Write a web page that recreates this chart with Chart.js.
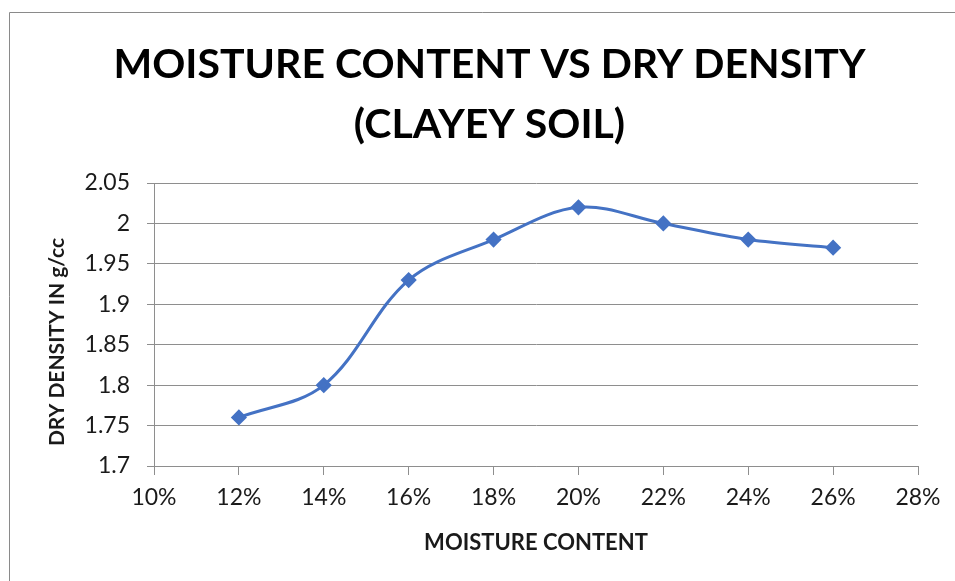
<!DOCTYPE html>
<html>
<head>
<meta charset="utf-8">
<title>Moisture content vs dry density</title>
<script src="https://cdn.jsdelivr.net/npm/chart.js@4/dist/chart.umd.min.js"></script>
<style>
    html, body { margin: 0; padding: 0; background: #fff; }
    canvas { display: block; }
</style>
</head>
<body>
<canvas id="chart" width="955" height="581"></canvas>
<script>
// Chart data
const chartTitle = ['MOISTURE CONTENT VS DRY DENSITY', '(CLAYEY SOIL)'];
const xAxisTitle = 'MOISTURE CONTENT';
const yAxisTitle = 'DRY DENSITY IN g/cc';

const moistureContent = [12, 14, 16, 18, 20, 22, 24, 26];          // %
const dryDensity = [1.76, 1.80, 1.93, 1.98, 2.02, 2.00, 1.98, 1.97]; // g/cc

const xTicks = [10, 12, 14, 16, 18, 20, 22, 24, 26, 28];
const yTicks = [1.7, 1.75, 1.8, 1.85, 1.9, 1.95, 2, 2.05];

const lineColor = '#4472C4';
const gridColor = '#8e8e8e';
const textColor = '#1a1a1a';
const fontFamily = "Lato, 'Open Sans', sans-serif";

// Outer frame, partly cut off in the reference (only top and left visible)
const framePlugin = {
    id: 'frame',
    beforeDraw(chart) {
        const ctx = chart.ctx;
        ctx.save();
        ctx.strokeStyle = '#8a8a8a';
        ctx.lineWidth = 1;
        ctx.beginPath();
        ctx.moveTo(chart.width, 12.5);
        ctx.lineTo(9.5, 12.5);
        ctx.lineTo(9.5, chart.height);
        ctx.stroke();
        ctx.restore();
    }
};

// Rotated y-axis title, sits a bit below the plot centre like the original
const yTitlePlugin = {
    id: 'yTitle',
    afterDraw(chart) {
        const ctx = chart.ctx;
        ctx.save();
        ctx.translate(57, 342);
        ctx.rotate(-Math.PI / 2);
        ctx.font = 'bold 21px ' + fontFamily;
        ctx.fillStyle = textColor;
        ctx.textAlign = 'center';
        ctx.textBaseline = 'middle';
        ctx.fillText(yAxisTitle, 0, 0);
        ctx.restore();
    }
};

const points = moistureContent.map((x, i) => ({ x: x, y: dryDensity[i] }));

new Chart(document.getElementById('chart'), {
    type: 'line',
    data: {
        datasets: [{
            data: points,
            borderColor: lineColor,
            backgroundColor: lineColor,
            borderWidth: 3,
            tension: 0.35,
            pointStyle: 'rectRot',
            pointRadius: 6,
            pointHoverRadius: 6,
            pointBorderColor: lineColor,
            pointBackgroundColor: lineColor,
            fill: false
        }]
    },
    options: {
        responsive: false,
        animation: false,
        devicePixelRatio: 1,
        layout: { padding: { left: 61, right: 37, top: 0, bottom: 0 } },
        plugins: {
            legend: { display: false },
            tooltip: { enabled: false },
            title: {
                display: true,
                text: chartTitle,
                color: '#000',
                font: { family: fontFamily, size: 41, weight: 'bold', lineHeight: '60px' },
                padding: { top: 35, bottom: 28 }
            }
        },
        scales: {
            x: {
                type: 'linear',
                min: 10,
                max: 28,
                afterBuildTicks: (scale) => { scale.ticks = xTicks.map(v => ({ value: v })); },
                afterFit: (scale) => { scale.height = 115; },
                ticks: {
                    color: textColor,
                    font: { family: fontFamily, size: 23 },
                    padding: 9,
                    maxRotation: 0,
                    callback: (v) => v + '%'
                },
                grid: {
                    drawOnChartArea: false,
                    drawTicks: true,
                    tickLength: 9,
                    color: gridColor
                },
                border: { display: true, color: gridColor },
                title: {
                    display: true,
                    text: xAxisTitle,
                    color: textColor,
                    font: { family: fontFamily, size: 22, weight: 'bold' },
                    padding: { top: 0, bottom: 25 }
                }
            },
            y: {
                min: 1.7,
                max: 2.05,
                afterBuildTicks: (scale) => { scale.ticks = yTicks.map(v => ({ value: v })); },
                afterFit: (scale) => { scale.width = 93; },
                ticks: {
                    color: textColor,
                    font: { family: fontFamily, size: 23 },
                    padding: 17,
                    callback: (v) => String(+v.toFixed(2))
                },
                grid: {
                    color: gridColor,
                    tickLength: 7
                },
                border: { display: true, color: gridColor }
            }
        }
    },
    plugins: [framePlugin, yTitlePlugin]
});
</script>
</body>
</html>
